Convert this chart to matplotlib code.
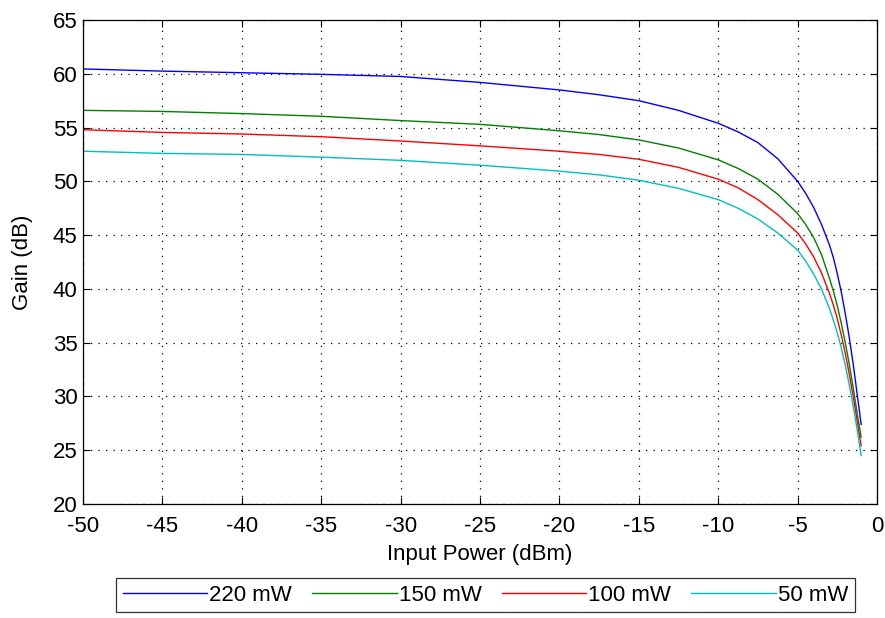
import matplotlib
matplotlib.use('Agg')
import matplotlib.pyplot as plt

plt.rcParams['font.family'] = ['Liberation Sans', 'DejaVu Sans']
plt.rcParams['axes.unicode_minus'] = False

# input power (dBm) and gain (dB)
p_in = [-50, -45, -40, -35, -30, -25, -20, -17.5, -15, -12.5, -10, -8.75, -7.5, -6.25,
        -5, -4.5, -4, -3.5, -3, -2.75, -2.5, -2.25, -2, -1.75, -1.5, -1.25, -1]
gain_220 = [60.45, 60.25, 60.1, 59.95, 59.75, 59.2, 58.5, 58.05, 57.5, 56.6, 55.4, 54.6, 53.6, 52.1,
            50.0, 48.9, 47.6, 46.0, 44.1, 42.9, 41.4, 39.7, 37.7, 35.5, 33.0, 30.2, 27.4]
gain_150 = [56.6, 56.5, 56.3, 56.05, 55.65, 55.3, 54.7, 54.35, 53.85, 53.1, 52.0, 51.2, 50.2, 48.8,
            47.0, 46.0, 44.8, 43.2, 41.0, 39.8, 38.4, 36.8, 35.0, 33.0, 30.8, 28.4, 26.2]
gain_100 = [54.8, 54.55, 54.4, 54.15, 53.75, 53.3, 52.8, 52.5, 52.05, 51.3, 50.2, 49.4, 48.3, 46.9,
            45.2, 44.2, 43.0, 41.5, 39.6, 38.5, 37.2, 35.7, 34.0, 32.1, 30.0, 27.7, 25.4]
gain_50 = [52.8, 52.6, 52.5, 52.25, 51.95, 51.5, 50.95, 50.6, 50.1, 49.35, 48.3, 47.5, 46.5, 45.2,
           43.6, 42.6, 41.4, 40.0, 38.2, 37.1, 35.9, 34.5, 32.9, 31.1, 29.1, 26.9, 24.5]

labels = ['220 mW', '150 mW', '100 mW', '50 mW']
colors = ['#0000ff', '#008000', '#ff0000', '#00bfbf']
series = [gain_220, gain_150, gain_100, gain_50]

fig = plt.figure(figsize=(8.85, 6.18), dpi=100)
ax = fig.add_axes([0.0938, 0.1845, 0.8972, 0.7831])

for g, lab, c in zip(series, labels, colors):
    ax.plot(p_in, g, color=c, lw=1.0, label=lab)

ax.set_xlim(-50, 0)
ax.set_ylim(20, 65)
ax.set_xticks(range(-50, 1, 5))
ax.set_yticks(range(20, 66, 5))
ax.tick_params(direction='in', length=5, width=0.8, top=True, right=True,
               labelsize=16, colors='black')
ax.tick_params(axis='x', pad=9)
ax.tick_params(axis='y', pad=4)
ax.grid(True, color='black', linestyle=(0, (1, 5)), linewidth=0.9)
for s in ax.spines.values():
    s.set_linewidth(0.9)
    s.set_color('black')

ax.set_xlabel('Input Power (dBm)', fontsize=16, labelpad=5)
ax.set_ylabel('Gain (dB)', fontsize=16, labelpad=14)

leg = fig.legend(loc='center', bbox_to_anchor=(0.5486, 0.0372), ncol=4,
                 fontsize=16, frameon=True, fancybox=False, handlelength=3.8,
                 handletextpad=0.1, columnspacing=0.9, borderpad=0.3,
                 borderaxespad=0)
leg.get_frame().set_edgecolor('black')
leg.get_frame().set_linewidth(0.9)

fig.savefig('out.png', dpi=100)
